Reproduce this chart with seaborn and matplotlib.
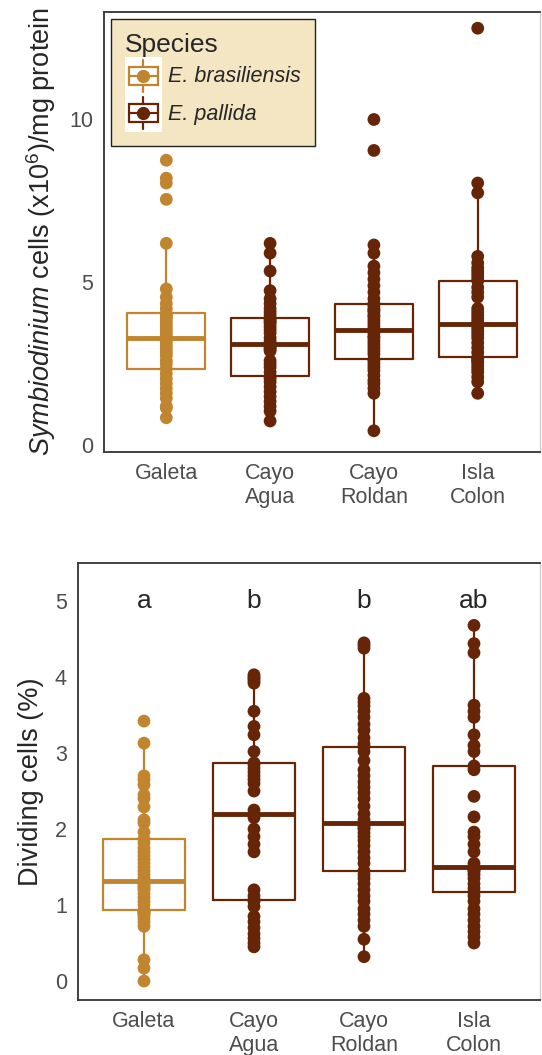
import numpy as np
import pandas as pd
import seaborn as sns
import matplotlib
matplotlib.use("Agg")
import matplotlib.pyplot as plt
from matplotlib.legend_handler import HandlerBase
from matplotlib.patches import Rectangle
from matplotlib.lines import Line2D

# sites (x categories) and which species was sampled at each
sites = ["Galeta", "Cayo Agua", "Cayo Roldan", "Isla Colon"]
site_labels = ["Galeta", "Cayo\nAgua", "Cayo\nRoldan", "Isla\nColon"]
site_species = ["E. brasiliensis", "E. pallida", "E. pallida", "E. pallida"]
species_order = ["E. brasiliensis", "E. pallida"]
palette = {"E. brasiliensis": "#C1842F", "E. pallida": "#662506"}
letters = ["a", "b", "b", "ab"]

# Symbiodinium cells (x10^6) / mg protein
dens_galeta = [0.85, 1.15, 1.2, 1.45, 1.6, 1.75, 1.9, 2.05, 2.2, 2.35, 2.5, 2.6, 2.75,
               2.85, 2.95, 3.05, 3.15, 3.25, 3.3, 3.4, 3.5, 3.6, 3.7, 3.8, 3.9, 3.95,
               4.0, 4.05, 4.2, 4.35, 4.55, 4.8, 6.2, 7.55, 8.05, 8.2, 8.75]
dens_agua = [0.75, 1.05, 1.2, 1.35, 1.5, 1.65, 1.8, 1.95, 2.05, 2.12, 2.25, 2.4, 2.5,
             2.6, 2.9, 2.95, 3.0, 3.05, 3.1, 3.2, 3.3, 3.45, 3.55, 3.65, 3.75, 3.8,
             3.85, 3.9, 4.0, 4.1, 4.2, 4.35, 4.5, 4.75, 5.35, 5.9, 6.2]
dens_roldan = [0.45, 1.6, 1.75, 1.9, 2.0, 2.15, 2.3, 2.4, 2.5, 2.6, 2.65, 2.8, 2.9,
               3.0, 3.1, 3.2, 3.3, 3.35, 3.45, 3.5, 3.55, 3.65, 3.75, 3.85, 3.95, 4.0,
               4.1, 4.15, 4.2, 4.3, 4.35, 4.5, 4.7, 4.9, 5.1, 5.3, 5.5, 5.9, 6.15,
               9.05, 10.0]
dens_colon = [1.6, 1.95, 2.1, 2.25, 2.35, 2.45, 2.55, 2.6, 2.65, 2.7, 2.85, 3.0, 3.15,
              3.3, 3.4, 3.5, 3.6, 3.68, 3.72, 3.8, 3.9, 4.0, 4.1, 4.2, 4.55, 4.7,
              4.85, 5.05, 5.15, 5.25, 5.35, 5.45, 5.6, 5.8, 7.75, 8.05, 12.8]

# dividing cells (%)
div_galeta = [0.0, 0.17, 0.28, 0.72, 0.78, 0.82, 0.86, 0.88, 0.9, 0.91, 0.92, 0.93,
              1.0, 1.05, 1.1, 1.15, 1.2, 1.22, 1.25, 1.28, 1.3, 1.31, 1.32, 1.35, 1.4,
              1.45, 1.5, 1.55, 1.6, 1.65, 1.7, 1.75, 1.82, 1.87, 1.96, 2.08, 2.12,
              2.29, 2.4, 2.45, 2.58, 2.65, 2.7, 3.13, 3.42]
div_agua = [0.45, 0.5, 0.56, 0.62, 0.7, 0.78, 0.85, 0.98, 1.05, 1.07, 1.12, 1.2, 1.7,
            1.8, 1.9, 2.0, 2.15, 2.18, 2.2, 2.25, 2.5, 2.6, 2.65, 2.7, 2.75, 2.8, 2.85,
            2.87, 3.02, 3.24, 3.35, 3.55, 3.92, 3.95, 3.98, 4.0, 4.03]
div_roldan = [0.32, 0.55, 0.72, 0.8, 0.88, 0.95, 1.05, 1.12, 1.2, 1.28, 1.35, 1.4,
              1.45, 1.55, 1.62, 1.7, 1.78, 1.85, 1.9, 1.95, 2.0, 2.02, 2.05, 2.07,
              2.08, 2.12, 2.2, 2.3, 2.4, 2.48, 2.55, 2.62, 2.7, 2.78, 2.9, 3.02, 3.08,
              3.12, 3.2, 3.3, 3.38, 3.47, 3.55, 3.62, 3.67, 3.72, 4.38, 4.42, 4.45]
div_colon = [0.5, 0.58, 0.65, 0.72, 0.8, 0.88, 0.95, 1.05, 1.12, 1.17, 1.22, 1.28,
             1.35, 1.4, 1.44, 1.46, 1.48, 1.49, 1.5, 1.55, 1.7, 1.8, 1.9, 1.96, 2.16,
             2.43, 2.78, 2.83, 3.02, 3.1, 3.24, 3.47, 3.55, 3.63, 4.32, 4.44, 4.68]


def long_frame(groups, col):
    rows = []
    for site, sp, vals in zip(sites, site_species, groups):
        for v in vals:
            rows.append({"site": site, "species": sp, col: v})
    return pd.DataFrame(rows)


dens = long_frame([dens_galeta, dens_agua, dens_roldan, dens_colon], "density")
div = long_frame([div_galeta, div_agua, div_roldan, div_colon], "dividing")


class BoxKey(HandlerBase):
    # legend key: little boxplot with a point on it, like ggplot's combined key
    def create_artists(self, legend, orig_handle, xdescent, ydescent,
                       width, height, fontsize, trans):
        c = orig_handle.get_color()
        x0, y0 = -xdescent, -ydescent
        cx, cy = x0 + width / 2, y0 + height / 2
        bg = Rectangle((x0, y0), width, height, facecolor="white",
                       edgecolor="none", transform=trans)
        whisk = Line2D([cx, cx], [y0 + 2, y0 + height - 2], color=c, lw=1.6,
                       transform=trans)
        box = Rectangle((x0 + width * 0.1, cy - height * 0.24), width * 0.8,
                        height * 0.48, facecolor="white", edgecolor=c, lw=1.6,
                        transform=trans)
        med = Line2D([x0 + width * 0.1, x0 + width * 0.9], [cy, cy], color=c,
                     lw=1.6, transform=trans)
        dot = Line2D([cx], [cy], marker="o", ms=8.5, color=c, lw=0,
                     transform=trans)
        return [bg, whisk, box, med, dot]


def draw_panel(ax, df, col):
    sns.boxplot(data=df, x="site", y=col, hue="species", order=sites,
                hue_order=species_order, palette=palette, fill=False,
                dodge=False, width=0.75, showcaps=False, showfliers=False,
                linewidth=1.6, medianprops={"linewidth": 3.5},
                legend=False, ax=ax)
    sns.stripplot(data=df, x="site", y=col, hue="species", order=sites,
                  hue_order=species_order, palette=palette, jitter=False,
                  dodge=False, size=9.2, linewidth=0, legend=False,
                  zorder=3, ax=ax)
    ax.set_xlim(-0.6, 3.6)
    ax.set_xticks(range(len(sites)))
    ax.set_xticklabels(site_labels)
    ax.set_xlabel("")
    for side in ["left", "top", "bottom"]:
        ax.spines[side].set_color("#333333")
        ax.spines[side].set_linewidth(1.3)
    ax.spines["right"].set_color("#CFCFCF")
    ax.spines["right"].set_linewidth(1.0)
    ax.tick_params(length=5, width=1.3, color="#333333", labelcolor="#4D4D4D",
                   labelsize=15.5, pad=3)


sns.set_style("white")
plt.rcParams["font.family"] = ["Liberation Sans", "DejaVu Sans"]
plt.rcParams["mathtext.fontset"] = "custom"
plt.rcParams["mathtext.rm"] = "Liberation Sans"
plt.rcParams["mathtext.it"] = "Liberation Sans:italic"

fig = plt.figure(figsize=(5.42, 10.55), dpi=100)
ax1 = fig.add_axes([0.1919, 0.5716, 0.8044, 0.4171])
ax2 = fig.add_axes([0.1439, 0.0521, 0.8524, 0.4142])

# top: symbiont density
draw_panel(ax1, dens, "density")
ax1.set_ylim(-0.2, 13.3)
ax1.set_yticks([0, 5, 10])
ax1.set_ylabel(r"$\mathit{Symbiodinium}$ cells (x10$^6$)/mg protein",
               fontsize=19.5, labelpad=8)

handles = [Line2D([], [], color=palette[s]) for s in species_order]
leg = ax1.legend(handles, species_order, handler_map={Line2D: BoxKey()},
                 loc="upper left", bbox_to_anchor=(0.016, 0.984),
                 borderaxespad=0, title="Species", alignment="left",
                 prop={"size": 15.5, "style": "italic"},
                 title_fontproperties={"size": 19},
                 handlelength=1.7, handleheight=2.3, handletextpad=0.3,
                 labelspacing=0, borderpad=0.65, frameon=True, fancybox=False)
leg.get_frame().set_facecolor("#F5E6C3")
leg.get_frame().set_edgecolor("#222222")
leg.get_frame().set_linewidth(1.0)
leg.get_frame().set_alpha(1)

# bottom: mitotic index
draw_panel(ax2, div, "dividing")
ax2.set_ylim(-0.25, 5.5)
ax2.set_yticks([0, 1, 2, 3, 4, 5])
ax2.set_ylabel("Dividing cells (%)", fontsize=19.5, labelpad=8)
for i, letter in enumerate(letters):
    ax2.text(i, 5.0, letter, ha="center", va="center", fontsize=19)

fig.savefig("out.png", dpi=100)
